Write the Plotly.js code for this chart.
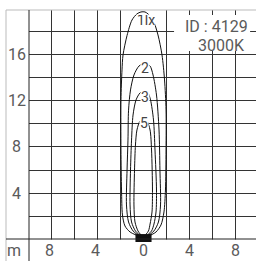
<!DOCTYPE html>
<html>
<head>
<meta charset="utf-8">
<script src="https://cdn.plot.ly/plotly-3.0.1.min.js"></script>
<style>html,body{margin:0;padding:0;background:#fff;}#chart{width:256px;height:261px;}</style>
</head>
<body>
<div id="chart"></div>
<script>
// ---- data (metres) ----
const xGridVals = [-8, -6, -4, -2, 0, 2, 4, 6, 8];
const xLabelVals = [-8, -4, 0, 4, 8];
const xLabelText = ['8', '4', '0', '4', '8'];
const yGridVals = [2, 4, 6, 8, 10, 12, 14, 16, 18];
const yLabelVals = [4, 8, 12, 16];
const yLabelText = ['4', '8', '12', '16'];
const unitLabel = 'm';

// isolux contours (lx): 1, 2, 3, 5
const c1x = [-0.65, -1.17, -1.61, -1.83, -1.91, -1.96, -1.96, -1.87, -1.78, -1.43, -1.00, -0.57, -0.22, 0.13, 0.39, 0.83, 1.26, 1.61, 1.83, 1.96, 1.96, 1.91, 1.78, 1.52, 1.09, 0.65];
const c1y = [0.35, 0.61, 1.13, 2.09, 4.26, 7.74, 12.09, 14.70, 16.00, 17.70, 19.04, 19.57, 19.74, 19.74, 19.57, 19.04, 17.74, 16.00, 13.83, 11.22, 7.74, 4.26, 2.35, 1.22, 0.61, 0.35];

const c2x = [-0.48, -0.91, -1.30, -1.48, -1.43, -1.35, -1.30, -1.13, -0.83, -0.39, 0.13, 0.57, 0.83, 1.13, 1.35, 1.43, 1.48, 1.30, 0.91, 0.48];
const c2y = [0.35, 0.70, 1.48, 2.96, 6.00, 8.60, 11.20, 12.96, 14.26, 15.04, 15.30, 15.04, 14.26, 12.52, 9.48, 6.00, 2.96, 1.48, 0.70, 0.35];

const c3x = [-0.35, -0.70, -1.04, -1.17, -1.13, -1.04, -0.91, -0.65, -0.30, 0.04, 0.39, 0.61, 0.87, 1.00, 1.13, 1.09, 0.91, 0.70, 0.35];
const c3y = [0.35, 0.70, 1.48, 2.96, 6.00, 8.60, 10.78, 12.09, 12.70, 12.87, 12.70, 12.09, 10.35, 7.74, 4.26, 2.35, 1.30, 0.70, 0.35];

const c5x = [-0.22, -0.48, -0.74, -0.83, -0.78, -0.70, -0.57, -0.30, 0.00, 0.30, 0.57, 0.70, 0.78, 0.74, 0.57, 0.43, 0.17];
const c5y = [0.35, 0.70, 1.48, 2.96, 6.00, 8.17, 9.48, 10.26, 10.43, 10.26, 9.48, 7.74, 4.26, 2.35, 1.30, 0.70, 0.35];

const contourLabels = ['1lx', '2', '3', '5'];
const contourLabelX = [0.22, 0.17, 0.09, 0.04];
const contourLabelY = [19.04, 14.87, 12.35, 10.09];

// luminaire outline
const lumX = [-0.70, 0.70, 0.70, -0.70];
const lumY = [-0.26, -0.26, 0.43, 0.43];

const idText = 'ID : 4129';
const cctText = '3000K';

// ---- styles ----
const FONT = 'Roboto, "Open Sans", sans-serif';
const TXT = '#5a5a5a';
const GRID = '#333';
const X_RANGE = [-9.957, 9.783];
const Y_RANGE = [-0.26, 19.91];

const lineStyle = {color: '#111', width: 1, shape: 'spline', smoothing: 0.8};
const contours = [[c1x, c1y], [c2x, c2y], [c3x, c3y], [c5x, c5y]];
const traces = contours.map(([x, y]) => ({
  type: 'scatter', mode: 'lines', x: x, y: y, line: lineStyle, hoverinfo: 'skip', showlegend: false
}));
traces.push({
  type: 'scatter', mode: 'lines', x: lumX, y: lumY, fill: 'toself', fillcolor: '#111',
  line: {color: '#111', width: 0}, hoverinfo: 'skip', showlegend: false
});

const annotations = [];
yLabelVals.forEach((v, i) => annotations.push({
  xref: 'paper', yref: 'y', x: -0.053, y: v, text: yLabelText[i], showarrow: false,
  xanchor: 'center', yanchor: 'middle', font: {family: FONT, size: 16, color: TXT}
}));
xLabelVals.forEach((v, i) => annotations.push({
  xref: 'x', yref: 'paper', x: v, y: -0.036, text: xLabelText[i], showarrow: false,
  xanchor: 'center', yanchor: 'middle', xshift: v < 0 ? -2 : 0,
  font: {family: FONT, size: 16, color: TXT}
}));
annotations.push({
  xref: 'paper', yref: 'paper', x: -0.066, y: -0.036, text: unitLabel, showarrow: false,
  xanchor: 'center', yanchor: 'middle', font: {family: FONT, size: 16, color: TXT}
});
contourLabels.forEach((t, i) => annotations.push({
  xref: 'x', yref: 'y', x: contourLabelX[i], y: contourLabelY[i], text: t, showarrow: false,
  xanchor: 'center', yanchor: 'middle', bgcolor: '#fff', borderpad: 0,
  height: i === 0 ? 10 : undefined,
  font: {family: FONT, size: 14, color: '#444'}
}));
annotations.push({
  xref: 'paper', yref: 'paper', x: 0.828, y: 0.927, text: idText, showarrow: false,
  xanchor: 'center', yanchor: 'middle', font: {family: FONT, size: 16, color: TXT}
});
annotations.push({
  xref: 'paper', yref: 'paper', x: 0.846, y: 0.849, text: cctText, showarrow: false,
  xanchor: 'center', yanchor: 'middle', font: {family: FONT, size: 16, color: TXT}
});

const shapes = [
  // mask vertical grid stubs below y=0
  {type: 'rect', xref: 'x', yref: 'y', x0: X_RANGE[0], x1: X_RANGE[1], y0: Y_RANGE[0], y1: -0.05,
   fillcolor: '#fff', line: {width: 0}, layer: 'between'},
  // ID box
  {type: 'rect', xref: 'paper', yref: 'paper', x0: 0.639, x1: 0.974, y0: 0.823, y1: 0.978,
   fillcolor: '#fff', line: {width: 0}, layer: 'above'},
  // outer light frame
  {type: 'line', xref: 'paper', yref: 'paper', x0: -0.1013, x1: 1, y0: 1, y1: 1, line: {color: '#bbb', width: 1}},
  {type: 'line', xref: 'paper', yref: 'paper', x0: -0.1013, x1: -0.1013, y0: 1, y1: -0.09, line: {color: '#bbb', width: 1}},
  // left dark axis line
  {type: 'line', xref: 'paper', yref: 'paper', x0: 0, x1: 0, y0: 1, y1: -0.09, line: {color: '#222', width: 1}},
  // bottom dark axis line at y = 0
  {type: 'line', xref: 'paper', yref: 'y', x0: -0.1013, x1: 1, y0: 0, y1: 0, line: {color: '#222', width: 1}}
];

const layout = {
  width: 256, height: 261,
  margin: {l: 29, r: 0, t: 10, b: 19, pad: 0},
  paper_bgcolor: '#fff', plot_bgcolor: '#fff',
  showlegend: false,
  xaxis: {
    range: X_RANGE, tickmode: 'array', tickvals: xGridVals, showticklabels: false,
    showgrid: true, gridcolor: GRID, gridwidth: 1,
    zeroline: true, zerolinecolor: 'rgba(0,0,0,0)', showline: false, ticks: '',
    automargin: false, fixedrange: true
  },
  yaxis: {
    range: Y_RANGE, tickmode: 'array', tickvals: yGridVals, showticklabels: false,
    showgrid: true, gridcolor: GRID, gridwidth: 1, zeroline: false, showline: false, ticks: '',
    automargin: false, fixedrange: true
  },
  annotations: annotations,
  shapes: shapes
};

Plotly.newPlot('chart', traces, layout, {staticPlot: true, displayModeBar: false});
</script>
</body>
</html>
